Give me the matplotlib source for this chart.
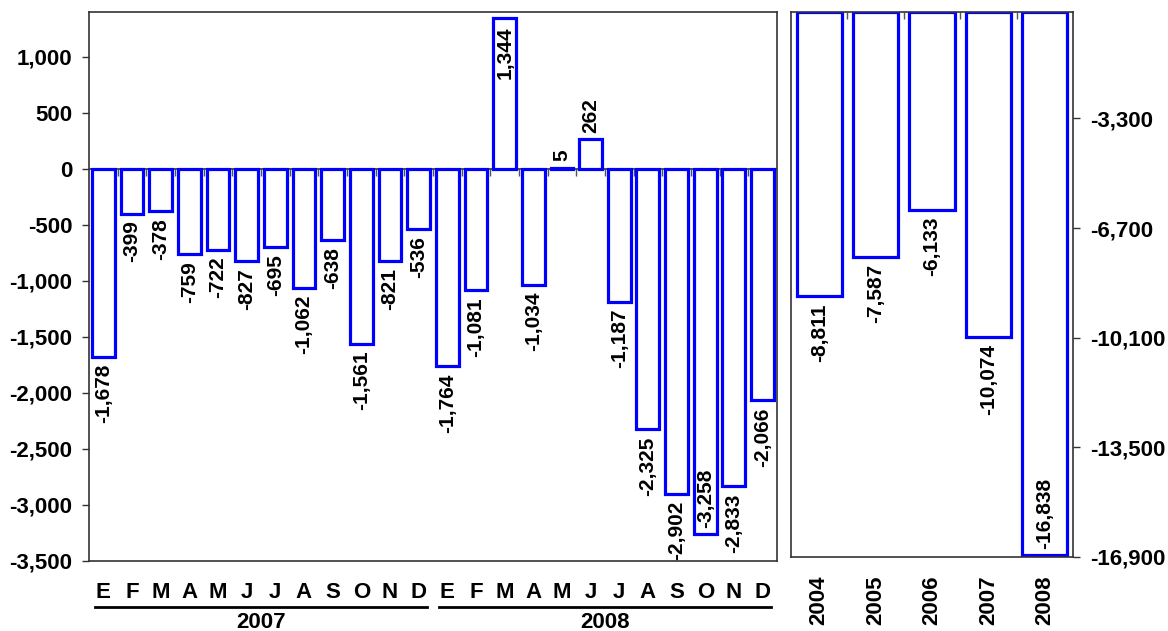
import numpy as np
import matplotlib
matplotlib.use("Agg")
import matplotlib.pyplot as plt
from matplotlib.ticker import FuncFormatter
import matplotlib.transforms as mtransforms

plt.rcParams["font.family"] = ["Liberation Sans", "DejaVu Sans"]
plt.rcParams["font.weight"] = "bold"
plt.rcParams["font.size"] = 16

# data
months = ["E", "F", "M", "A", "M", "J", "J", "A", "S", "O", "N", "D"]
month_years = ["2007", "2008"]
monthly_2007 = [-1678, -399, -378, -759, -722, -827, -695, -1062, -638, -1561, -821, -536]
monthly_2008 = [-1764, -1081, 1344, -1034, 5, 262, -1187, -2325, -2902, -3258, -2833, -2066]
annual_years = ["2004", "2005", "2006", "2007", "2008"]
annual_values = [-8811, -7587, -6133, -10074, -16838]

left_ticks = [1000, 500, 0, -500, -1000, -1500, -2000, -2500, -3000, -3500]
right_ticks = [-3300, -6700, -10100, -13500, -16900]

blue = "#0000FF"
spine_c = "#333333"
fmt = FuncFormatter(lambda v, p: f"{int(v):,}")


def label_bars(ax, xs, vals, lo, hi):
    for x, v in zip(xs, vals):
        lim = hi if v >= 0 else lo
        inside = v / lim > 0.9
        if v >= 0:
            va, off = ("top", -6) if inside else ("bottom", 5)
        else:
            va, off = ("bottom", 4) if inside else ("top", -5)
        ax.annotate(f"{v:,}", (x, v), xytext=(0, off), textcoords="offset points",
                    rotation=90, ha="center", va=va, fontsize=15,
                    fontweight="bold", annotation_clip=False)


fig = plt.figure(figsize=(11.68, 6.31), dpi=100)
ax1 = fig.add_axes([0.0762, 0.111, 0.5890, 0.870])
ax2 = fig.add_axes([0.6772, 0.1173, 0.2415, 0.8637])

# monthly panel
monthly = monthly_2007 + monthly_2008
x1 = np.arange(len(monthly))
ax1.axhline(0, color=spine_c, lw=1.2, zorder=1)
ax1.bar(x1, monthly, width=0.8, facecolor="white", edgecolor=blue, linewidth=2.3, zorder=2)
lo1, hi1 = -3500, 1400
ax1.set_ylim(lo1, hi1)
ax1.set_xlim(-0.5, len(monthly) - 0.5)
ax1.set_yticks(left_ticks)
ax1.yaxis.set_major_formatter(fmt)
ax1.set_xticks(x1)
ax1.set_xticklabels(months * 2)
ax1.tick_params(axis="x", length=0, pad=15)
ax1.tick_params(axis="y", length=5, width=1, color=spine_c, pad=7)
label_bars(ax1, x1, monthly, lo1, hi1)

# small ticks on the zero line
sec = ax1.secondary_xaxis((0 - lo1) / (hi1 - lo1))
sec.set_xticks(np.arange(0.5, len(monthly) - 1, 1))
sec.tick_params(direction="in", length=5, width=1, color="#555555", labelsize=0)
sec.set_xticklabels([])
for s in sec.spines.values():
    s.set_visible(False)

trans = mtransforms.blended_transform_factory(ax1.transData, ax1.transAxes)
for i, yr in enumerate(month_years):
    start = i * 12
    ax1.plot([start - 0.3, start + 11.3], [-0.084, -0.084], transform=trans,
             color="black", lw=2, clip_on=False)
    ax1.text(start + 5.5, -0.112, yr, transform=trans, ha="center", va="center",
             fontsize=16, fontweight="bold")

# annual panel
x2 = np.arange(len(annual_values))
ax2.bar(x2, annual_values, width=0.8, facecolor="white", edgecolor=blue, linewidth=2.3, zorder=2)
lo2, hi2 = -16900, 0
ax2.set_ylim(lo2, hi2)
ax2.set_xlim(-0.5, len(annual_values) - 0.5)
ax2.yaxis.tick_right()
ax2.set_yticks(right_ticks)
ax2.yaxis.set_major_formatter(fmt)
ax2.tick_params(axis="y", length=5, width=1, color=spine_c, pad=7)
ax2.set_xticks(x2)
ax2.set_xticklabels(annual_years, rotation=90, va="top")
ax2.tick_params(axis="x", which="major", length=0, pad=13)
ax2.set_xticks(np.arange(0.5, len(annual_values) - 1, 1), minor=True)
ax2.tick_params(axis="x", which="minor", bottom=False, top=True, direction="in",
                length=5, width=1, color="#555555")
label_bars(ax2, x2, annual_values, lo2, hi2)

for ax in (ax1, ax2):
    for s in ax.spines.values():
        s.set_color(spine_c)
        s.set_linewidth(1.2)

fig.savefig("out.png", dpi=100)
